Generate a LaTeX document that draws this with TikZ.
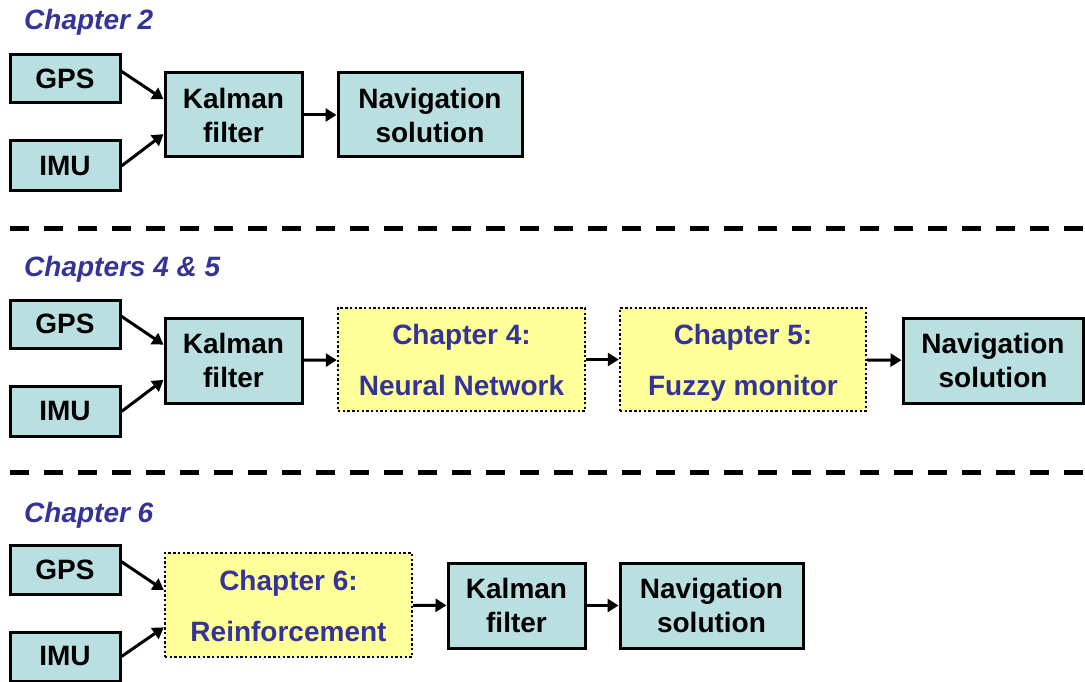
\documentclass[tikz,border=0pt]{standalone}
\usepackage{fontspec}
\setmainfont{Liberation Sans}
\usetikzlibrary{arrows.meta,calc}
\definecolor{boxfill}{HTML}{B9DFE1}
\definecolor{chapfill}{HTML}{FFFF99}
\definecolor{chapblue}{HTML}{333399}
% first line of a two-line chapter box, with extra room above it
\newcommand{\toprow}{\rule{0pt}{32pt}}
\begin{document}
\begin{tikzpicture}[x=1pt,y=-1pt,
  every node/.style={font=\fontsize{28}{34}\selectfont\bfseries},
  block/.style={draw=black,line width=3pt,fill=boxfill,inner sep=0pt,align=center},
  chapbox/.style={draw=black,line width=2.4pt,dash pattern=on 2.4pt off 2.3pt,fill=chapfill,
    inner sep=0pt,align=center,text=chapblue},
  title/.style={anchor=base west,inner sep=0pt,text=chapblue,font=\fontsize{28}{34}\selectfont\bfseries\itshape},
  link/.style={line width=3pt,-{Triangle[length=11pt,width=13pt]}},
  sep/.style={line width=5pt,dash pattern=on 19pt off 15pt}]
\useasboundingbox (0,0) rectangle (1085,682);

% ---- Chapter 2 ----
\node[title] (t1) at (24,30) {Chapter 2};
\node[block,minimum width=110,minimum height=48] (gps1) at (65,79) {GPS};
\node[block,minimum width=110,minimum height=50] (imu1) at (65,166) {IMU};
\node[block,minimum width=137,minimum height=84] (kal1) at (233.5,115) {Kalman\\filter};
\node[block,minimum width=184,minimum height=84] (nav1) at (430,115) {Navigation\\solution};
\draw[link] ($(gps1.north east)!0.35!(gps1.south east)$) -- ($(kal1.north west)!0.32!(kal1.south west)$);
\draw[link] ($(imu1.north east)!0.5!(imu1.south east)$) -- ($(kal1.north west)!0.72!(kal1.south west)$);
\draw[link] (kal1) -- (nav1);

\coordinate (s1a) at (10,228);
\coordinate (s1b) at (1085,228);
\draw[sep] (s1a) -- (s1b);

% ---- Chapters 4 & 5 ----
\node[title] (t2) at (24,276) {Chapters 4 \& 5};
\node[block,minimum width=110,minimum height=48] (gps2) at (65,324) {GPS};
\node[block,minimum width=110,minimum height=50] (imu2) at (65,411.5) {IMU};
\node[block,minimum width=137,minimum height=85] (kal2) at (233.5,360.5) {Kalman\\filter};
\node[chapbox,minimum width=247,minimum height=103] (ch4) at (461.5,359.5) {\toprow Chapter 4:\\[17pt]\strut Neural Network};
\node[chapbox,minimum width=246,minimum height=103] (ch5) at (743,359.5) {\toprow Chapter 5:\\[17pt]\strut Fuzzy monitor};
\node[block,minimum width=180,minimum height=85] (nav2) at (993,360.5) {Navigation\\solution};
\draw[link] ($(gps2.north east)!0.35!(gps2.south east)$) -- ($(kal2.north west)!0.32!(kal2.south west)$);
\draw[link] ($(imu2.north east)!0.5!(imu2.south east)$) -- ($(kal2.north west)!0.72!(kal2.south west)$);
\draw[link] (kal2) -- (ch4);
\draw[link] (ch4) -- (ch5);
\draw[link] (ch5) -- (nav2);

\coordinate (s2a) at (10,472);
\coordinate (s2b) at (1085,472);
\draw[sep] (s2a) -- (s2b);

% ---- Chapter 6 ----
\node[title] (t3) at (24,522) {Chapter 6};
\node[block,minimum width=110,minimum height=49] (gps3) at (65,569.5) {GPS};
\node[block,minimum width=110,minimum height=49] (imu3) at (65,656.5) {IMU};
\node[chapbox,minimum width=247,minimum height=104] (ch6) at (288.5,605) {\toprow Chapter 6:\\[17pt]\strut Reinforcement};
\node[block,minimum width=137,minimum height=85] (kal3) at (516.5,605.5) {Kalman\\filter};
\node[block,minimum width=183,minimum height=85] (nav3) at (711.5,605.5) {Navigation\\solution};
\draw[link] ($(gps3.north east)!0.35!(gps3.south east)$) -- ($(ch6.north west)!0.36!(ch6.south west)$);
\draw[link] ($(imu3.north east)!0.5!(imu3.south east)$) -- ($(ch6.north west)!0.71!(ch6.south west)$);
\draw[link] (ch6) -- (kal3);
\draw[link] (kal3) -- (nav3);
\end{tikzpicture}
\end{document}
